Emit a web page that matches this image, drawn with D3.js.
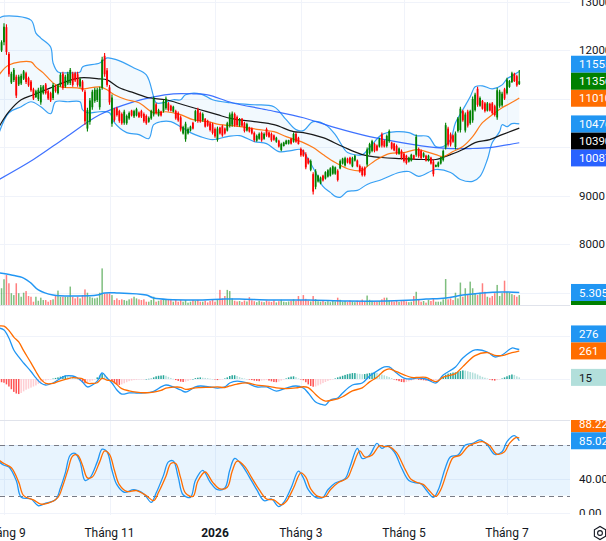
<!DOCTYPE html>
<html>
<head>
<meta charset="utf-8">
<script src="https://cdn.jsdelivr.net/npm/d3@7"></script>
<style>
  html, body { margin: 0; padding: 0; background: #fff; overflow: hidden; }
  svg { display: block; font-family: Roboto, "Liberation Sans", sans-serif; }
</style>
</head>
<body>
<svg id="chart" width="606" height="541"></svg>
<script>
// bar index of the first row below; index 0 = first session of Tháng 9
const firstIndex = -2;

// daily bars: [open, high, low, close]
const ohlc = [
  [11760,12000,11730,11960],[11990,12200,11960,12160],                       // -2..-1
  [12160,12550,12100,12480],[12470,12530,11900,11960],[11920,11960,11450,11500],[11330,11550,11300,11510],[11380,11630,11340,11590],
  [11450,11490,11010,11060],[11290,11490,11260,11450],[11310,11510,11280,11470],[11410,11590,11380,11560],[11520,11550,11300,11340], // 0..9
  [11420,11450,11240,11270],[11350,11380,11140,11170],[11190,11220,10970,11000],[11030,11180,11010,11150],[10990,11220,10950,11180],
  [10920,11280,10870,11230],[11110,11280,11080,11250],[11290,11320,11080,11110],[11150,11180,10970,11000],[11110,11140,10930,10960], // 10..19
  [11010,11320,10970,11280],[11250,11280,11120,11150],[11110,11300,11080,11270],[11270,11530,11240,11490],[11510,11550,11180,11220],
  [11250,11490,11220,11450],[11310,11550,11280,11510],[11320,11630,11280,11590],[11510,11550,11240,11280],[11520,11550,11340,11370], // 20..29
  [11500,11550,11240,11280],[11250,11430,11220,11400],[11350,11380,11140,11170],[11140,11180,10460,10530],[10380,10810,10320,10760],
  [10520,11010,10460,10960],[10820,11180,10770,11140],[10950,11220,10910,11180],[10970,11220,10930,11180],[10820,11240,10770,11200], // 30..39
  [11220,11860,11180,11800],[11880,11940,11450,11500],[11580,11630,11240,11280],[11230,11280,10870,10920],[10480,11080,10420,11020],
  [10780,10810,10520,10560],[10800,10830,10630,10660],[10740,10770,10500,10540],[10680,10710,10460,10490],[10500,10770,10460,10730], // 40..49
  [10490,10670,10460,10640],[10590,10730,10560,10700],[10750,10770,10630,10650],[10630,10770,10600,10740],[10650,10810,10630,10780],
  [10710,10730,10600,10620],[10740,10770,10600,10630],[10680,10710,10500,10530],[10640,10670,10460,10490],[10520,10630,10500,10600], // 50..59
  [10590,10770,10560,10740],[10670,11040,10630,10990],[10880,10910,10670,10700],[10650,10790,10630,10760],[10730,10750,10630,10650],
  [10740,10970,10710,10940],[10800,11040,10770,11000],[10900,10930,10730,10760],[10850,10870,10730,10750],[10730,10850,10710,10830], // 60..69
  [10740,10770,10560,10590],[10700,10730,10520,10550],[10610,10650,10320,10360],[10280,10440,10260,10410],[10160,10520,10110,10480],
  [10280,10400,10260,10370],[10340,10440,10320,10420],[10500,10520,10360,10380],[10550,10770,10520,10740],[10770,10810,10500,10540], // 70..79
  [10700,10730,10500,10530],[10550,10710,10520,10680],[10580,10600,10400,10420],[10540,10560,10420,10440],[10490,10520,10320,10350],
  [10470,10500,10260,10290],[10370,10400,10190,10220],[10150,10420,10110,10380],[10400,10420,10260,10280],[10430,10460,10210,10240], // 80..89
  [10380,10400,10260,10280],[10340,10520,10320,10490],[10440,10710,10400,10670],[10460,10730,10420,10690],[10680,10710,10420,10450],
  [10620,10650,10420,10450],[10440,10600,10420,10570],[10580,10600,10420,10440],[10490,10520,10300,10330],[10340,10500,10320,10470], // 90..99
  [10400,10420,10300,10320],[10380,10400,10260,10280],[10290,10320,10110,10140],[10130,10260,10110,10230],[10170,10300,10150,10270],
  [10290,10320,10110,10140],[10170,10300,10150,10270],[10370,10400,10210,10240],[10300,10320,10190,10210],[10270,10300,10110,10140], // 100..109
  [10240,10260,10130,10150],[10110,10210,10090,10190],[10130,10150,9990,10010],[9940,10090,9910,10060],[10020,10110,10010,10090],
  [10060,10150,10050,10130],[10070,10150,10050,10140],[10170,10190,10050,10070],[10110,10300,10090,10270],[10270,10300,10090,10110], // 110..119
  [10190,10210,10050,10060],[9960,9990,9800,9830],[9930,9950,9800,9820],[9850,9890,9540,9580],[9760,9780,9640,9660],
  [9530,9740,9500,9710],[9440,9480,9020,9080],[9180,9540,9130,9500],[9290,9430,9270,9410],[9250,9390,9230,9370],             // 120..129
  [9410,9430,9290,9310],[9350,9500,9330,9480],[9390,9540,9370,9520],[9410,9580,9390,9560],[9450,9620,9430,9600],
  [9450,9600,9430,9580],[9510,9540,9290,9320],[9560,9740,9540,9710],[9660,9780,9640,9760],[9620,9800,9600,9770],             // 130..139
  [9760,9780,9660,9680],[9780,9800,9640,9660],[9600,9800,9580,9770],[9720,9840,9700,9820],[9720,9740,9580,9600],
  [9610,9640,9470,9500],[9570,9600,9390,9420],[9570,9600,9390,9420],[9640,9990,9600,9950],[9870,10090,9840,10060],           // 140..149
  [9920,10150,9890,10120],[10060,10090,9890,9920],[10030,10050,9910,9930],[10010,10190,9990,10160],[10260,10300,9990,10030],
  [10130,10150,9990,10010],[10020,10260,9990,10230],[10120,10360,10090,10330],[10090,10110,9950,9970],[10070,10090,9910,9930], // 150..159
  [10020,10050,9840,9870],[9860,9990,9840,9970],[9920,9950,9740,9770],[9860,9890,9680,9710],[9820,9840,9640,9670],
  [9700,9800,9680,9780],[9720,9860,9700,9840],[9830,9840,9740,9750],[9840,10260,9800,10210],[9960,9990,9780,9810],           // 160..169
  [9920,9950,9740,9770],[9800,9890,9780,9870],[9820,9840,9700,9720],[9720,9840,9700,9820],[9780,9800,9640,9660],
  [9700,9740,9390,9440],[9590,9640,9580,9630],[9600,9700,9580,9680],[9660,9800,9640,9780],[9730,9950,9700,9920],             // 170..179
  [9990,10500,9950,10450],[10380,10420,10010,10050],[10260,10300,10010,10050],[10240,10260,10090,10110],[10000,10320,9950,10280],
  [10330,10620,10300,10590],[10350,10830,10300,10790],[10740,10770,10520,10550],[10340,10710,10300,10670],[10730,10770,10400,10440], // 180..189
  [10490,10770,10460,10740],[10550,11040,10500,10990],[10760,11120,10730,11080],[11200,11240,10830,10870],[10850,11040,10830,11010],
  [10950,10970,10770,10790],[10900,10930,10710,10740],[10750,10930,10730,10900],[10890,10910,10730,10750],[10900,10930,10670,10700], // 190..199
  [10840,10870,10630,10660],[10610,11220,10560,11170],[10850,11180,10810,11140],[10860,11140,10830,11100],[11190,11220,10970,11000],
  [11110,11430,11080,11390],[11240,11380,11220,11360],[11340,11550,11320,11520],[11510,11530,11340,11360],[11460,11490,11240,11270], // 200..209
  [11300,11590,11280,11356]                                                   // 210
];

// volume per bar, millions
const volume = [
  9.2,7.1,10.9,12.7,9.2,5.0,4.2,9.2,5.0,3.5,5.2,5.9,
  3.8,3.5,1.4,3.5,1.8,3.1,2.1,2.1,1.4,2.1,2.4,4.2,
  6.1,3.5,3.5,3.5,3.5,7.8,3.5,2.8,3.5,2.8,4.2,6.6,
  5.2,3.5,3.1,2.8,3.1,5.2,15.5,4.9,4.9,4.9,4.2,2.1,
  2.8,2.1,2.4,2.1,1.8,2.4,2.8,3.5,2.8,2.4,2.1,2.4,
  1.4,1.4,2.1,3.5,1.4,1.8,2.1,2.4,2.4,2.1,2.1,1.4,
  2.1,1.4,2.1,1.4,2.1,1.0,1.4,2.1,1.8,2.1,1.4,1.4,
  1.8,1.1,1.7,2.4,1.4,2.1,6.4,2.8,3.8,6.4,5.9,2.8,
  1.8,1.5,1.7,1.3,1.9,1.5,3.3,2.0,1.6,1.2,1.8,1.4,
  1.2,1.9,1.5,1.3,2.0,1.1,1.6,2.2,1.4,1.2,1.5,1.8,
  2.4,1.7,3.8,2.1,4.2,2.6,1.9,1.5,3.8,2.5,1.6,1.4,
  1.8,1.3,1.6,1.2,1.9,1.5,3.1,2.2,1.4,1.7,1.3,1.9,
  1.5,1.2,1.8,1.4,2.3,1.6,4.0,2.2,1.8,1.5,1.3,1.7,
  2.4,3.1,3.1,2.0,1.6,1.4,1.9,1.3,1.6,1.8,1.5,1.2,
  1.4,3.8,5.6,2.4,1.4,1.7,1.0,2.1,1.7,2.8,1.4,1.4,
  1.4,2.4,11.0,2.4,2.8,2.1,5.2,2.8,9.5,3.5,7.1,4.2,
  9.9,7.1,5.0,4.2,5.2,9.2,5.6,3.5,3.1,3.8,5.0,8.5,
  3.8,5.0,10.3,5.6,5.2,4.6,4.2,3.5,4.2
];

// MACD histogram per bar
const macdHist = [
  -20,-30,-35,-50,-70,-95,-120,-135,-140,-130,-115,-100,
  -90,-80,-70,-60,-45,-35,-25,-15,-8,-2,4,10,
  15,22,28,32,30,25,15,8,0,-12,-30,-40,
  -35,-25,-15,-5,15,30,50,40,20,0,-20,-40,
  -50,-55,-50,-40,-30,-20,-15,-10,-8,-5,-3,-2,
  0,2,4,15,25,30,32,35,30,20,10,2,
  -10,-18,-25,-28,-25,-18,-10,0,8,12,15,12,
  10,8,3,0,-5,-10,-8,-3,5,15,28,35,
  35,28,18,10,5,0,-5,-10,-15,-18,-20,-15,
  -12,-8,-15,-22,-28,-30,-25,-15,-5,5,15,22,
  25,18,5,-5,-12,-30,-50,-65,-72,-70,-60,-50,
  -38,-28,-18,-10,-2,5,15,22,30,38,45,50,
  55,55,50,48,45,46,50,55,58,60,58,50,
  42,34,26,18,8,-2,-12,-20,-28,-30,-28,-22,
  -15,-10,-5,-8,-10,-12,-15,-18,-20,-18,-12,-5,
  5,20,40,50,55,60,62,68,75,80,78,72,
  65,60,52,42,30,20,12,5,-5,-12,-15,-10,
  -3,5,15,25,35,42,38,25,15
];

// indicator lines: [bar index, value]
const bbUpper = [[-2,12657],[0,12698],[11,12616],[13,12349],[15,12246],[19,12062],[20,11733],[22,11548],[26,11528],[31,11548],
  [32,11651],[39,11733],[42,11836],[46,11795],[53,11630],[58,11487],[61,11035],[62,10912],[65,10912],[69,10974],[72,10974],
  [74,11076],[80,11097],[85,10974],[92,10912],[102,10871],[110,10830],[115,10563],[119,10358],[122,10337],[126,10522],
  [131,10460],[135,10255],[138,10009],[140,9885],[146,9844],[149,9988],[154,10255],[160,10317],[165,10296],[168,10234],
  [173,10214],[176,10009],[179,10009],[182,10152],[184,10501],[187,10768],[190,11035],[192,11240],[195,11261],[199,11199],
  [203,11281],[205,11405],[207,11466],[210,11555]];
const bbBasis = [[-2,11487],[2,11692],[11,11754],[13,11651],[16,11528],[20,11322],[23,11240],[30,11220],[32,11199],[39,11240],
  [42,11179],[45,11076],[50,10974],[55,10912],[61,10707],[66,10727],[72,10666],[77,10563],[83,10522],[88,10460],[93,10440],
  [99,10399],[104,10358],[110,10317],[115,10214],[122,10091],[126,9988],[130,9844],[135,9680],[141,9536],[146,9516],
  [148,9598],[152,9742],[157,9865],[163,9885],[168,9947],[172,9906],[176,9844],[179,9803],[183,9906],[187,10009],
  [191,10214],[195,10501],[199,10666],[203,10809],[206,10891],[210,11010]];
const bbLower = [[-2,10296],[2,10707],[7,10830],[11,10933],[15,10830],[19,10686],[21,10933],[26,10933],[31,10933],[32,10768],
  [34,10707],[39,10727],[43,10707],[45,10501],[50,10296],[55,10255],[59,10173],[61,10460],[64,10522],[68,10522],[72,10419],
  [76,10296],[80,10214],[85,10152],[91,10214],[96,10234],[102,10111],[107,10070],[112,9906],[117,9926],[121,9947],
  [124,9742],[127,9475],[130,9187],[133,9064],[135,8982],[137,8962],[140,9085],[144,9105],[148,9228],[154,9331],
  [161,9475],[165,9495],[169,9393],[176,9536],[182,9475],[186,9331],[191,9290],[194,9393],[197,9742],[199,10091],
  [202,10317],[203,10460],[205,10419],[207,10481],[210,10476]];
const ma50 = [[-2,10419],[2,10727],[7,10974],[12,11076],[19,11220],[25,11343],[31,11425],[39,11405],[42,11384],[47,11220],
  [53,11117],[59,11015],[66,10974],[73,10871],[80,10768],[87,10666],[93,10584],[102,10522],[110,10460],[118,10317],
  [122,10296],[130,10193],[138,10009],[146,9844],[154,9783],[162,9762],[171,9742],[176,9742],[182,9844],[187,9947],
  [192,10091],[198,10152],[203,10255],[210,10390]];
const ma200 = [[-2,9331],[12,9742],[25,10193],[39,10666],[53,10933],[61,11035],[69,11097],[77,11097],[83,11076],[93,10912],
  [107,10768],[122,10604],[135,10399],[149,10214],[162,10091],[176,9988],[182,9968],[190,9968],[198,9988],[210,10087]];
const volMa = [[-2,13.6],[3,12.7],[8,11.4],[11,9.3],[14,6.4],[20,4.2],[30,3.8],[38,4.2],[41,5.1],[46,5.1],[58,4.2],[61,3.0],
  [77,2.1],[90,2.5],[96,2.5],[109,2.1],[124,2.1],[140,1.7],[156,1.7],[167,2.1],[172,2.5],[180,3.0],[187,4.2],[195,5.1],
  [203,5.5],[210,5.305]];
const macdLine = [[-2,474],[0,456],[2,381],[4,270],[6,205],[8,149],[11,70],[13,10],[15,-37],[17,-56],[20,-37],[22,-9],[25,28],
  [28,28],[30,9],[32,-28],[34,-74],[36,-56],[38,-20],[40,56],[42,9],[44,-37],[46,-102],[48,-140],[51,-130],[54,-130],
  [57,-130],[61,-115],[64,-74],[66,-56],[69,-74],[72,-102],[74,-121],[78,-74],[80,-65],[84,-74],[87,-84],[90,-74],[92,-37],
  [95,-19],[99,-37],[103,-74],[107,-74],[111,-112],[115,-84],[119,-65],[122,-84],[124,-130],[127,-214],[129,-233],
  [131,-242],[133,-195],[136,-177],[138,-130],[142,-56],[146,-37],[149,28],[152,74],[155,112],[157,112],[160,56],[163,9],
  [166,0],[168,9],[172,0],[176,-37],[179,37],[184,112],[187,195],[192,270],[197,251],[200,205],[203,223],[207,288],
  [209,279],[210,276]];
const signalLine = [[-2,494],[0,491],[2,451],[4,390],[6,345],[8,264],[11,150],[13,70],[15,-2],[17,-41],[20,-41],[22,-24],
  [25,-4],[28,13],[30,9],[32,2],[34,-39],[36,-41],[38,-35],[40,6],[42,-11],[44,-17],[46,-52],[48,-90],[51,-110],[54,-122],
  [57,-128],[61,-123],[64,-106],[66,-86],[69,-76],[72,-77],[74,-96],[78,-82],[80,-80],[84,-77],[87,-74],[90,-79],[92,-65],
  [95,-47],[99,-37],[103,-56],[107,-66],[111,-82],[115,-89],[119,-83],[122,-72],[124,-80],[127,-144],[129,-183],
  [131,-205],[133,-200],[136,-185],[138,-165],[142,-111],[146,-82],[149,-27],[152,16],[155,78],[157,94],[160,68],[163,39],
  [166,15],[168,14],[172,15],[176,-25],[179,17],[184,50],[187,115],[192,218],[197,246],[200,220],[203,218],[207,246],
  [209,254],[210,261]];
const stochK = [[-2,60],[0,56],[2,54],[5,38],[7,18],[11,16],[14,8],[17,11],[21,15],[23,29],[25,47],[27,68],[29,70],[31,60],
  [33,38],[35,41],[38,60],[40,75],[42,72],[44,50],[46,33],[49,24],[53,27],[57,22],[60,12],[62,23],[65,44],[67,60],[69,61],
  [71,42],[73,21],[76,18],[78,38],[81,50],[84,36],[87,27],[90,29],[92,50],[94,64],[97,56],[100,42],[103,27],[106,14],
  [109,16],[112,7],[114,12],[117,29],[120,49],[122,41],[124,27],[127,18],[130,18],[132,27],[135,35],[139,40],[141,54],
  [144,76],[146,64],[149,68],[152,82],[154,76],[156,79],[159,72],[162,53],[165,38],[168,35],[170,34],[172,27],[175,18],
  [177,27],[180,54],[182,66],[185,68],[188,80],[191,82],[194,86],[197,80],[200,69],[203,72],[205,84],[208,91],[210,85.02]];
const stochD = [[-2,62],[0,58],[3,53],[6,36],[8,20],[12,15],[15,10],[18,11],[22,18],[24,32],[26,50],[28,67],[30,68],[32,56],
  [34,41],[36,42],[39,60],[41,73],[43,69],[45,50],[47,33],[50,25],[54,26],[58,20],[61,14],[63,24],[66,43],[68,58],[70,58],
  [72,41],[74,23],[77,19],[79,37],[82,48],[85,36],[88,28],[91,30],[93,49],[95,61],[98,55],[101,41],[104,27],[107,16],
  [110,15],[113,9],[115,13],[118,29],[121,47],[123,42],[125,28],[128,19],[131,19],[133,27],[136,35],[140,41],[142,54],
  [145,73],[147,66],[150,68],[153,79],[155,78],[157,78],[160,71],[163,54],[166,39],[169,35],[171,33],[173,27],[176,19],
  [178,27],[181,52],[183,65],[186,68],[189,78],[192,82],[195,84],[198,79],[201,69],[204,72],[206,82],[209,89],[210,88.22]];

// axis ticks
const monthTicks = [[0,"Tháng 9"],[43,"Tháng 11"],[86,"2026"],[121,"Tháng 3"],[163,"Tháng 5"],[205,"Tháng 7"]];
const priceTicks = [7000,8000,9000,10000,11000,12000,13000];
const macdTicks = [0,400];
const stochTicks = [0,40,80];
const stochBand = [20,80];

const UP = "#008000", DOWN = "#ff0000";
const GRID = "#f0f3fa", TEXT = "#131722";

const svg = d3.select("#chart");
const plotRight = 570;
const panes = {
  main:  { top: 0,   bottom: 305 },
  macd:  { top: 305, bottom: 420 },
  stoch: { top: 420, bottom: 515 }
};

const x = d3.scaleLinear().domain([0, 205]).range([4, 507]);
const yPrice = d3.scaleLinear().domain([8000, 12000]).range([244, 50]);
const yVol = d3.scaleLinear().domain([0, 15.5]).range([305, 268.4]);
const yMacd = d3.scaleLinear().domain([0, 400]).range([379, 336]);
const yStoch = d3.scaleLinear().domain([0, 80]).range([512.5, 445]);

const bars = ohlc.map((d, k) => ({ i: firstIndex + k, o: d[0], h: d[1], l: d[2], c: d[3] }));

// clip paths, one per pane for plot area and one for the price-axis labels
const defs = svg.append("defs");
Object.entries(panes).forEach(([k, p]) => {
  defs.append("clipPath").attr("id", "plot-" + k)
    .append("rect").attr("x", 0).attr("y", p.top).attr("width", plotRight).attr("height", p.bottom - p.top);
  defs.append("clipPath").attr("id", "axis-" + k)
    .append("rect").attr("x", plotRight).attr("y", p.top).attr("width", 60).attr("height", p.bottom - p.top);
});

// grid
const grid = svg.append("g").attr("stroke", GRID).attr("stroke-width", 1);
monthTicks.forEach(t => {
  grid.append("line").attr("x1", Math.round(x(t[0])) + 0.5).attr("x2", Math.round(x(t[0])) + 0.5)
    .attr("y1", 0).attr("y2", panes.stoch.bottom);
});
priceTicks.forEach(v => grid.append("line").attr("x1", 0).attr("x2", plotRight)
  .attr("y1", Math.round(yPrice(v)) + 0.5).attr("y2", Math.round(yPrice(v)) + 0.5));
macdTicks.forEach(v => grid.append("line").attr("x1", 0).attr("x2", plotRight)
  .attr("y1", Math.round(yMacd(v)) + 0.5).attr("y2", Math.round(yMacd(v)) + 0.5));
stochTicks.forEach(v => grid.append("line").attr("x1", 0).attr("x2", plotRight)
  .attr("y1", Math.round(yStoch(v)) + 0.5).attr("y2", Math.round(yStoch(v)) + 0.5));

// pane separators
[panes.macd.top, panes.stoch.top].forEach(y => {
  svg.append("line").attr("x1", 0).attr("x2", plotRight).attr("y1", y + 0.5).attr("y2", y + 0.5)
    .attr("stroke", "#e0e3eb");
});

function curveLine(yScale) {
  return d3.line().x(d => x(d[0])).y(d => yScale(d[1])).curve(d3.curveCatmullRom.alpha(0.5));
}

// ---- main pane
const main = svg.append("g").attr("clip-path", "url(#plot-main)");
const pLine = curveLine(yPrice);

// bollinger fill
main.append("path")
  .attr("d", pLine(bbUpper) + "L" + pLine(bbLower.slice().reverse()).slice(1) + "Z")
  .attr("fill", "rgba(33,150,243,0.06)").attr("stroke", "none");

// volume
main.append("g").selectAll("rect").data(bars).join("rect")
  .attr("x", d => x(d.i) - 0.75).attr("width", 1.5)
  .attr("y", (d, k) => yVol(volume[k]))
  .attr("height", (d, k) => yVol(0) - yVol(volume[k]))
  .attr("fill", d => d.c >= d.o ? "rgba(0,128,0,0.5)" : "rgba(255,0,0,0.5)");
main.append("path").attr("d", curveLine(yVol)(volMa))
  .attr("fill", "none").attr("stroke", "#2196f3").attr("stroke-width", 1.5);

[[bbUpper, "#2196f3", 1.2], [bbLower, "#2196f3", 1.2], [ma200, "#2962ff", 1.2],
 [ma50, "#000000", 1.2], [bbBasis, "#ff6d00", 1.2]].forEach(([data, color, w]) => {
  main.append("path").attr("d", pLine(data)).attr("fill", "none")
    .attr("stroke", color).attr("stroke-width", w).attr("stroke-opacity", 0.9);
});

// candles
const cg = main.append("g");
cg.selectAll("line").data(bars).join("line")
  .attr("x1", d => x(d.i)).attr("x2", d => x(d.i))
  .attr("y1", d => yPrice(d.h)).attr("y2", d => yPrice(d.l))
  .attr("stroke", d => d.c >= d.o ? UP : DOWN).attr("stroke-width", 1.1);
cg.selectAll("rect").data(bars).join("rect")
  .attr("x", d => x(d.i) - 0.9).attr("width", 1.8)
  .attr("y", d => yPrice(Math.max(d.o, d.c)))
  .attr("height", d => Math.max(1, Math.abs(yPrice(d.o) - yPrice(d.c))))
  .attr("fill", d => d.c >= d.o ? UP : DOWN);

// ---- MACD pane
const macdG = svg.append("g").attr("clip-path", "url(#plot-macd)");
macdG.selectAll("rect").data(macdHist).join("rect")
  .attr("x", (v, k) => x(firstIndex + k) - 0.75).attr("width", 1.5)
  .attr("y", v => yMacd(Math.max(0, v)))
  .attr("height", v => Math.max(0.5, Math.abs(yMacd(v) - yMacd(0))))
  .attr("fill", (v, k) => {
    const prev = k > 0 ? macdHist[k - 1] : v;
    if (v >= 0) return v >= prev ? "#26a69a" : "#b2dfdb";
    return v < prev ? "#ff5252" : "#ffcdd2";
  });
const mLine = curveLine(yMacd);
macdG.append("path").attr("d", mLine(macdLine)).attr("fill", "none").attr("stroke", "#2196f3").attr("stroke-width", 1.3);
macdG.append("path").attr("d", mLine(signalLine)).attr("fill", "none").attr("stroke", "#ff6d00").attr("stroke-width", 1.3);

// ---- stochastic pane
const stG = svg.append("g").attr("clip-path", "url(#plot-stoch)");
stG.append("rect").attr("x", 0).attr("width", plotRight)
  .attr("y", yStoch(stochBand[1])).attr("height", yStoch(stochBand[0]) - yStoch(stochBand[1]))
  .attr("fill", "rgba(33,150,243,0.1)");
stochBand.forEach(v => stG.append("line").attr("x1", 0).attr("x2", plotRight)
  .attr("y1", Math.round(yStoch(v)) + 0.5).attr("y2", Math.round(yStoch(v)) + 0.5)
  .attr("stroke", "#787b86").attr("stroke-dasharray", "5,4"));
const sLine = curveLine(yStoch);
stG.append("path").attr("d", sLine(stochK)).attr("fill", "none").attr("stroke", "#2196f3").attr("stroke-width", 1.3);
stG.append("path").attr("d", sLine(stochD)).attr("fill", "none").attr("stroke", "#ff6d00").attr("stroke-width", 1.3);

// ---- right-hand value labels
const LH = 17;
function placeLabels(list) {
  const placed = [];
  list.forEach(l => {
    const free = y => placed.every(p => Math.abs(p.y - y) >= LH - 0.01);
    let cands = [l.y0];
    placed.forEach(p => cands.push(p.y - LH, p.y + LH));
    cands = cands.filter(free).sort((a, b) => Math.abs(a - l.y0) - Math.abs(b - l.y0));
    l.y = cands.length ? cands[0] : l.y0;
    placed.push(l);
  });
  return list;
}
const last = a => a[a.length - 1][1];
const lastBar = bars[bars.length - 1];
const fmtInt = d3.format("d");

const labelSets = {
  main: placeLabels([
    { y0: yPrice(lastBar.c), text: fmtInt(lastBar.c), bg: UP },
    { y0: yPrice(last(bbUpper)), text: fmtInt(last(bbUpper)), bg: "#2196f3" },
    { y0: yPrice(last(bbBasis)), text: fmtInt(last(bbBasis)), bg: "#ff6d00" },
    { y0: yPrice(last(bbLower)), text: fmtInt(last(bbLower)), bg: "#2196f3" },
    { y0: yPrice(last(ma50)), text: fmtInt(last(ma50)), bg: "#000000" },
    { y0: yPrice(last(ma200)), text: fmtInt(last(ma200)), bg: "#2962ff" },
    { y0: yVol(last(volMa)), text: last(volMa).toFixed(3) + "M", bg: "#2196f3" },
    { y0: yVol(volume[volume.length - 1]), text: volume[volume.length - 1].toFixed(3) + "M", bg: UP }
  ]),
  macd: placeLabels([
    { y0: yMacd(macdHist[macdHist.length - 1]), text: fmtInt(macdHist[macdHist.length - 1]), bg: "#b2dfdb", fg: TEXT },
    { y0: yMacd(last(signalLine)), text: fmtInt(last(signalLine)), bg: "#ff6d00" },
    { y0: yMacd(last(macdLine)), text: fmtInt(last(macdLine)), bg: "#2196f3" }
  ]),
  stoch: placeLabels([
    { y0: yStoch(last(stochK)), text: last(stochK).toFixed(2), bg: "#2196f3" },
    { y0: yStoch(last(stochD)), text: last(stochD).toFixed(2), bg: "#ff6d00" }
  ])
};

// tick labels, hidden where a value label sits
const tickSets = {
  main: priceTicks.map(v => ({ y: yPrice(v), text: fmtInt(v) })),
  macd: macdTicks.map(v => ({ y: yMacd(v), text: fmtInt(v) })),
  stoch: stochTicks.map(v => ({ y: yStoch(v), text: v.toFixed(2) }))
};

Object.keys(panes).forEach(k => {
  const g = svg.append("g").attr("clip-path", "url(#axis-" + k + ")")
    .attr("font-size", 11.5);
  const labels = labelSets[k];
  tickSets[k].filter(t => labels.every(l => Math.abs(l.y - t.y) >= 14))
    .forEach(t => g.append("text").attr("x", 579).attr("y", t.y).attr("dy", "0.36em")
      .attr("fill", TEXT).text(t.text));
  labels.slice().reverse().forEach(l => {
    g.append("rect").attr("x", 571).attr("y", l.y - LH / 2).attr("width", 40).attr("height", LH)
      .attr("fill", l.bg);
    g.append("text").attr("x", 579).attr("y", l.y).attr("dy", "0.36em")
      .attr("fill", l.fg || "#ffffff").text(l.text);
  });
});

// ---- time axis
const tx = svg.append("g").attr("font-size", 12).attr("fill", TEXT).attr("text-anchor", "middle");
monthTicks.forEach(t => {
  tx.append("text").attr("x", x(t[0])).attr("y", 533).attr("dy", "0.36em")
    .attr("font-weight", /^\d+$/.test(t[1]) ? "bold" : "normal").text(t[1]);
});

// settings icon at the corner
const gear = svg.append("g").attr("transform", "translate(600,533)")
  .attr("fill", "none").attr("stroke", TEXT).attr("stroke-width", 1.1);
gear.append("polygon").attr("points", d3.range(6).map(k => {
  const a = Math.PI / 6 + k * Math.PI / 3;
  return [6.5 * Math.cos(a), 6.5 * Math.sin(a)].join(",");
}).join(" "));
gear.append("circle").attr("r", 2.4);
</script>
</body>
</html>
